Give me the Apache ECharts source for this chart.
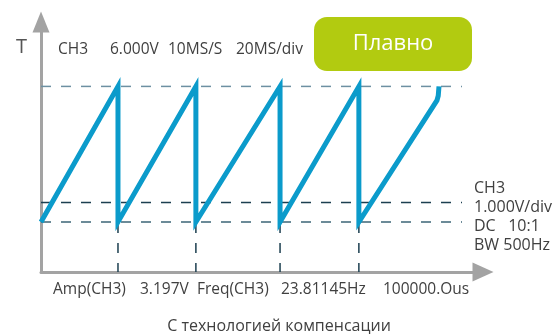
<!DOCTYPE html>
<html>
<head>
<meta charset="utf-8">
<script src="https://cdn.jsdelivr.net/npm/echarts@6/dist/echarts.min.js"></script>
<style>
  html, body { margin: 0; padding: 0; background: #ffffff; }
  #chart { width: 559px; height: 335px; }
</style>
</head>
<body>
<div id="chart"></div>
<script>
// Sawtooth trace: time in ms, voltage in V
const waveTime = [0, 41.8, 41.8, 84.1, 84.1, 129.8, 129.8, 172.6, 172.6, 215.0, 215.7, 216.1];
const waveVolt = [1.18, 4.38, 1.18, 4.38, 1.18, 4.38, 1.18, 4.38, 1.18, 4.05, 4.16, 4.38];

// Reference levels (V) and the instants where the ramp resets (ms)
const levelHigh = 4.38;
const levelMid = 1.64;
const levelLow = 1.18;
const levelEnd = 228.6;
const resetTimes = [41.8, 84.1, 129.8, 172.6];

// Readout text
const axisName = 'T';
const topLabels = ['CH3', '6.000V', '10MS/S', '20MS/div'];
const bottomLabels = ['Amp(CH3)', '3.197V', 'Freq(CH3)', '23.81145Hz', '100000.Ous'];
const sideLabels = ['CH3', '1.000V/div', 'DC   10:1', 'BW 500Hz'];
const modeLabel = 'Плавно';
const caption = 'С технологией компенсации';

// Placement of the readout text (px)
const topLabelX = [58, 110, 168, 236];
const topLabelY = 50;
const bottomLabelX = [53, 140, 197, 281, 383];
const bottomLabelY = 289.5;
const sideLabelX = 474;
const sideLabelY = [188, 207.5, 226.5, 245];

const FONT = '"Open Sans", "Noto Sans", sans-serif';
const TEXT_COLOR = '#404040';

const chart = echarts.init(document.getElementById('chart'), null, { renderer: 'canvas' });

function dashed(data, color) {
  return {
    type: 'line',
    data: data,
    symbol: 'none',
    silent: true,
    animation: false,
    z: 1,
    lineStyle: { color: color, width: 1.5, type: [10, 10] }
  };
}

const series = [];
series.push(dashed([[0, levelHigh], [levelEnd, levelHigh]], '#6d90a2'));
series.push(dashed([[0, levelMid], [levelEnd, levelMid]], '#1c3f50'));
series.push(dashed([[0, levelLow], [levelEnd, levelLow]], '#3d6577'));
resetTimes.forEach(t => {
  const s = dashed([[t, 0], [t, levelLow]], '#1c3f50');
  s.lineStyle.dashOffset = 1;
  series.push(s);
});
series.push({
  type: 'line',
  data: waveTime.map((t, i) => [t, waveVolt[i]]),
  symbol: 'none',
  silent: true,
  animation: false,
  z: 5,
  lineStyle: { color: '#0b9bcb', width: 5, join: 'miter', miterLimit: 10, cap: 'butt' }
});

function label(text, x, y, size, align) {
  return {
    type: 'text',
    silent: true,
    style: {
      text: text, x: x, y: y,
      fill: TEXT_COLOR,
      font: size + 'px ' + FONT,
      textAlign: align || 'left',
      textVerticalAlign: 'middle'
    }
  };
}

const graphics = [];
const nameLabel = label(axisName, 16, 47, 20);
nameLabel.style.fill = '#555555';
graphics.push(nameLabel);
topLabels.forEach((t, i) => graphics.push(label(t, topLabelX[i], topLabelY, 15.5)));
bottomLabels.forEach((t, i) => graphics.push(label(t, bottomLabelX[i], bottomLabelY, 15.5)));
sideLabels.forEach((t, i) => graphics.push(label(t, sideLabelX, sideLabelY[i], 16)));
graphics.push({
  type: 'rect',
  silent: true,
  shape: { x: 314, y: 17, width: 158, height: 54, r: 13 },
  style: { fill: '#b2cb10' }
});
const modeText = label(modeLabel, 393, 44, 22, 'center');
modeText.style.fill = '#ffffff';
graphics.push(modeText);
graphics.push(label(caption, 279, 326, 16, 'center'));

chart.setOption({
  animation: false,
  backgroundColor: '#ffffff',
  grid: { left: 41, top: 22, width: 442, height: 250, containLabel: false },
  xAxis: {
    type: 'value', min: 0, max: 240,
    axisLine: {
      show: true, onZero: false,
      symbol: ['none', 'triangle'], symbolSize: [19, 21],
      lineStyle: { color: '#a3a3a3', width: 3 }
    },
    axisTick: { show: false }, axisLabel: { show: false }, splitLine: { show: false }
  },
  yAxis: {
    type: 'value', min: 0, max: 5.9,
    axisLine: {
      show: true, onZero: false,
      symbol: ['none', 'triangle'], symbolSize: [17, 21],
      lineStyle: { color: '#a3a3a3', width: 3 }
    },
    axisTick: { show: false }, axisLabel: { show: false }, splitLine: { show: false }
  },
  series: series,
  graphic: graphics
});
</script>
</body>
</html>
